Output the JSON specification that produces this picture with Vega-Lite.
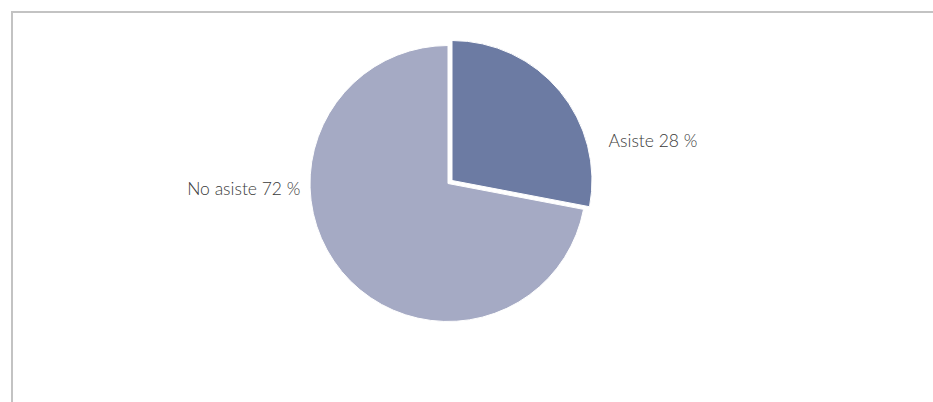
{
  "$schema": "https://vega.github.io/schema/vega-lite/v6.json",
  "width": 933,
  "height": 402,
  "autosize": {"type": "fit", "contains": "padding"},
  "padding": {"left": 12, "top": 12, "right": -10, "bottom": -10},
  "background": "white",
  "view": {"stroke": "#c3c3c3", "strokeWidth": 2, "fill": "white"},
  "config": {
    "view": {"stroke": "#c3c3c3", "strokeWidth": 2},
    "text": {"font": "Lato", "fontWeight": 300, "fontSize": 17.5, "fill": "#3a3a3a"}
  },
  "data": {
    "values": [
      {"categoria": "Asiste", "porcentaje": 28, "orden": 1, "etiqueta": "Asiste 28 %"},
      {"categoria": "No asiste", "porcentaje": 72, "orden": 2, "etiqueta": "No asiste 72 %"}
    ]
  },
  "transform": [
    {"stack": "porcentaje", "groupby": [], "sort": [{"field": "orden"}], "as": ["inicio", "fin"]},
    {"calculate": "(datum.inicio + datum.fin) / 2", "as": "medio"}
  ],
  "layer": [
    {
      "transform": [{"filter": "datum.categoria === 'No asiste'"}],
      "mark": {"type": "arc", "outerRadius": 138, "xOffset": -29.5, "yOffset": -28.5, "stroke": "white", "strokeWidth": 1},
      "encoding": {
        "theta": {"field": "inicio", "type": "quantitative", "scale": {"domain": [0, 100]}},
        "theta2": {"field": "fin"},
        "color": {"field": "categoria", "type": "nominal", "scale": {"domain": ["Asiste", "No asiste"], "range": ["#6c7ba3", "#a5aac4"]}, "legend": null}
      }
    },
    {
      "transform": [{"filter": "datum.categoria === 'Asiste'"}],
      "mark": {"type": "arc", "outerRadius": 140, "xOffset": -25.5, "yOffset": -31.5, "stroke": "white", "strokeWidth": 1},
      "encoding": {
        "theta": {"field": "inicio", "type": "quantitative", "scale": {"domain": [0, 100]}},
        "theta2": {"field": "fin"},
        "color": {"field": "categoria", "type": "nominal", "legend": null}
      }
    },
    {
      "transform": [{"filter": "datum.categoria === 'Asiste'"}],
      "mark": {"type": "text", "radius": 150, "xOffset": -25.5, "yOffset": -31.5, "dx": 41, "dy": 57, "align": "left", "baseline": "middle", "color": "#3a3a3a"},
      "encoding": {
        "theta": {"field": "medio", "type": "quantitative", "scale": {"domain": [0, 100]}},
        "text": {"field": "etiqueta"}
      }
    },
    {
      "transform": [{"filter": "datum.categoria === 'No asiste'"}],
      "mark": {"type": "text", "radius": 150, "xOffset": -29.5, "yOffset": -28.5, "dx": -32, "dy": -89, "align": "right", "baseline": "middle", "color": "#3a3a3a"},
      "encoding": {
        "theta": {"field": "medio", "type": "quantitative", "scale": {"domain": [0, 100]}},
        "text": {"field": "etiqueta"}
      }
    }
  ]
}
